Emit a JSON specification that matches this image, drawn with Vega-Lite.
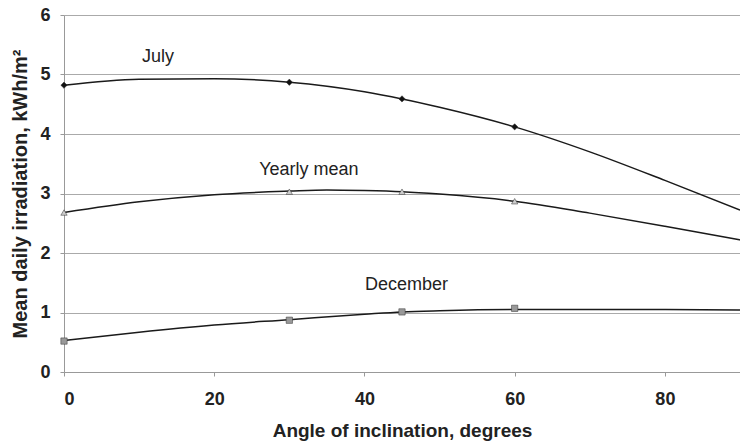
{
  "$schema": "https://vega.github.io/schema/vega-lite/v6.json",
  "width": 676,
  "height": 357,
  "autosize": {"type": "none"},
  "padding": {"left": 64, "top": 15, "right": 0, "bottom": 73},
  "background": "white",
  "config": {
    "view": {"stroke": null},
    "font": "Liberation Sans"
  },
  "datasets": {
    "curves": [
      {"angle": 0, "value": 4.82, "series": "July"},
      {"angle": 10, "value": 4.92, "series": "July"},
      {"angle": 20, "value": 4.93, "series": "July"},
      {"angle": 30, "value": 4.87, "series": "July"},
      {"angle": 40, "value": 4.71, "series": "July"},
      {"angle": 45, "value": 4.59, "series": "July"},
      {"angle": 50, "value": 4.45, "series": "July"},
      {"angle": 60, "value": 4.12, "series": "July"},
      {"angle": 70, "value": 3.7, "series": "July"},
      {"angle": 80, "value": 3.22, "series": "July"},
      {"angle": 90, "value": 2.72, "series": "July"},
      {"angle": 0, "value": 2.68, "series": "Yearly mean"},
      {"angle": 10, "value": 2.86, "series": "Yearly mean"},
      {"angle": 20, "value": 2.98, "series": "Yearly mean"},
      {"angle": 30, "value": 3.04, "series": "Yearly mean"},
      {"angle": 35, "value": 3.06, "series": "Yearly mean"},
      {"angle": 40, "value": 3.05, "series": "Yearly mean"},
      {"angle": 45, "value": 3.03, "series": "Yearly mean"},
      {"angle": 50, "value": 2.99, "series": "Yearly mean"},
      {"angle": 60, "value": 2.87, "series": "Yearly mean"},
      {"angle": 70, "value": 2.67, "series": "Yearly mean"},
      {"angle": 80, "value": 2.45, "series": "Yearly mean"},
      {"angle": 90, "value": 2.22, "series": "Yearly mean"},
      {"angle": 0, "value": 0.53, "series": "December"},
      {"angle": 10, "value": 0.67, "series": "December"},
      {"angle": 20, "value": 0.79, "series": "December"},
      {"angle": 30, "value": 0.88, "series": "December"},
      {"angle": 40, "value": 0.97, "series": "December"},
      {"angle": 45, "value": 1.01, "series": "December"},
      {"angle": 50, "value": 1.03, "series": "December"},
      {"angle": 60, "value": 1.05, "series": "December"},
      {"angle": 70, "value": 1.05, "series": "December"},
      {"angle": 80, "value": 1.05, "series": "December"},
      {"angle": 90, "value": 1.04, "series": "December"}
    ],
    "markers": [
      {"angle": 0, "value": 4.82, "series": "July"},
      {"angle": 30, "value": 4.87, "series": "July"},
      {"angle": 45, "value": 4.59, "series": "July"},
      {"angle": 60, "value": 4.12, "series": "July"},
      {"angle": 0, "value": 2.68, "series": "Yearly mean"},
      {"angle": 30, "value": 3.03, "series": "Yearly mean"},
      {"angle": 45, "value": 3.03, "series": "Yearly mean"},
      {"angle": 60, "value": 2.87, "series": "Yearly mean"},
      {"angle": 0, "value": 0.52, "series": "December"},
      {"angle": 30, "value": 0.87, "series": "December"},
      {"angle": 45, "value": 1.01, "series": "December"},
      {"angle": 60, "value": 1.07, "series": "December"}
    ],
    "labels": [
      {"angle": 12.5, "value": 5.3, "text": "July"},
      {"angle": 32.6, "value": 3.4, "text": "Yearly mean"},
      {"angle": 45.6, "value": 1.46, "text": "December"}
    ]
  },
  "encoding": {
    "x": {
      "field": "angle",
      "type": "quantitative",
      "scale": {"domain": [0, 90], "nice": false},
      "axis": {
        "values": [0, 20, 40, 60, 80],
        "grid": false,
        "title": "Angle of inclination, degrees",
        "titleFontSize": 19,
        "titleFontWeight": "bold",
        "titleColor": "#222",
        "titlePadding": 13,
        "labelFontSize": 18,
        "labelFontWeight": "bold",
        "labelColor": "#222",
        "labelPadding": 14,
        "tickSize": 4,
        "tickColor": "#999",
        "domainColor": "#999"
      }
    },
    "y": {
      "field": "value",
      "type": "quantitative",
      "scale": {"domain": [0, 6], "nice": false},
      "axis": {
        "values": [0, 1, 2, 3, 4, 5, 6],
        "grid": true,
        "gridColor": "#aaa",
        "gridWidth": 1,
        "title": "Mean daily irradiation, kWh/m²",
        "titleFontSize": 20,
        "titleFontWeight": "bold",
        "titleColor": "#222",
        "titlePadding": 9,
        "labelFontSize": 18,
        "labelFontWeight": "bold",
        "labelColor": "#222",
        "labelPadding": 10,
        "tickSize": 4,
        "tickColor": "#999",
        "domainColor": "#999"
      }
    }
  },
  "layer": [
    {
      "data": {"name": "curves"},
      "mark": {"type": "line", "interpolate": "monotone", "color": "#1a1a1a", "strokeWidth": 1.5},
      "encoding": {"detail": {"field": "series"}}
    },
    {
      "data": {"name": "markers"},
      "mark": {"type": "point", "filled": true, "size": 40, "stroke": "#333", "strokeWidth": 0.5, "opacity": 1},
      "encoding": {
        "shape": {
          "field": "series",
          "scale": {"domain": ["July", "Yearly mean", "December"], "range": ["diamond", "triangle-up", "square"]},
          "legend": null
        },
        "color": {
          "field": "series",
          "scale": {"domain": ["July", "Yearly mean", "December"], "range": ["#111", "#ccc", "#999"]},
          "legend": null
        }
      }
    },
    {
      "data": {"name": "labels"},
      "mark": {"type": "text", "fontSize": 18, "color": "#222", "align": "center", "baseline": "middle"},
      "encoding": {"text": {"field": "text"}}
    }
  ]
}
